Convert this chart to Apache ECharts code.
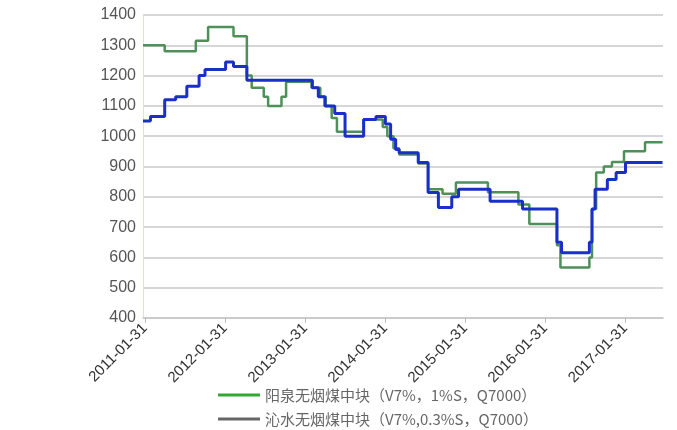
<!DOCTYPE html>
<html>
<head>
<meta charset="utf-8">
<script src="https://cdn.jsdelivr.net/npm/echarts@6/dist/echarts.min.js"></script>
<style>
  html, body { margin: 0; padding: 0; background: #fff; }
  #chart { width: 677px; height: 430px; }
</style>
</head>
<body>
<div id="chart"></div>
<script>
// 图例名称
const seriesNames = ['阳泉无烟煤中块（V7%，1%S，Q7000）', '沁水无烟煤中块（V7%,0.3%S，Q7000）']

// x 轴刻度日期
const tickDates = ['2011-01-31', '2012-01-31', '2013-01-31', '2014-01-31', '2015-01-31', '2016-01-31', '2017-01-31']

// 阳泉：价格变动点 [日期, 元/吨]
const yangquan = [
  ['2011-01-22', 1300], ['2011-05-01', 1280], ['2011-09-20', 1315], ['2011-11-15', 1360],
  ['2012-03-10', 1330], ['2012-05-10', 1200], ['2012-06-01', 1160], ['2012-07-26', 1130],
  ['2012-08-15', 1100], ['2012-10-15', 1130], ['2012-11-05', 1180], ['2013-03-01', 1160],
  ['2013-04-10', 1130], ['2013-05-05', 1100], ['2013-06-01', 1060], ['2013-06-25', 1015],
  ['2013-10-25', 1055], ['2014-01-20', 1030], ['2014-02-10', 1000], ['2014-03-10', 960],
  ['2014-04-05', 940], ['2014-07-01', 910], ['2014-08-15', 825], ['2014-10-20', 810],
  ['2014-12-20', 847], ['2015-05-15', 815], ['2015-10-01', 775], ['2015-11-20', 710],
  ['2016-03-25', 640], ['2016-04-10', 567], ['2016-08-20', 600], ['2016-09-01', 760],
  ['2016-09-20', 880], ['2016-10-25', 900], ['2016-12-01', 915], ['2017-01-25', 950],
  ['2017-05-01', 980], ['2017-07-20', 980]
]

// 沁水：价格变动点 [日期, 元/吨]
const qinshui = [
  ['2011-01-22', 1050], ['2011-02-25', 1065], ['2011-05-01', 1120], ['2011-06-20', 1130],
  ['2011-08-10', 1165], ['2011-10-05', 1200], ['2011-11-01', 1220], ['2012-02-03', 1245],
  ['2012-03-10', 1230], ['2012-05-10', 1185], ['2013-03-05', 1160], ['2013-04-01', 1130],
  ['2013-05-01', 1100], ['2013-06-15', 1075], ['2013-08-01', 1000], ['2013-10-25', 1055],
  ['2013-12-20', 1065], ['2014-02-01', 1040], ['2014-02-25', 990], ['2014-03-20', 956],
  ['2014-04-05', 945], ['2014-07-01', 913], ['2014-08-15', 814], ['2014-10-01', 765],
  ['2014-12-01', 800], ['2015-01-01', 825], ['2015-05-25', 785], ['2015-10-20', 760],
  ['2016-03-25', 650], ['2016-04-15', 615], ['2016-08-20', 650], ['2016-09-01', 760],
  ['2016-09-15', 825], ['2016-11-10', 857], ['2016-12-20', 880], ['2017-02-01', 913],
  ['2017-07-20', 913]
]

// 日期转时间戳（UTC）
const toTime = s => Date.parse(s + 'T00:00:00Z')
const pad = n => (n < 10 ? '0' : '') + n
const toPoints = arr => arr.map(([d, v]) => [toTime(d), v])

const chart = echarts.init(document.getElementById('chart'))

chart.setOption({
  backgroundColor: '#fff',
  animation: false,
  grid: {left: 143, right: 14, top: 15, bottom: 112},
  legend: {
    orient: 'vertical',
    left: 218,
    top: 386,
    height: 60,
    padding: 0,
    itemWidth: 42,
    itemHeight: 3,
    itemGap: 6,
    textStyle: {fontSize: 15, lineHeight: 18, color: '#666', fontFamily: 'Noto Sans CJK SC'},
    data: [
      {name: seriesNames[0], icon: 'rect', itemStyle: {color: '#33a833'}},
      {name: seriesNames[1], icon: 'rect', itemStyle: {color: '#666'}}
    ]
  },
  xAxis: {
    type: 'value',
    min: toTime('2011-01-22'),
    max: toTime('2017-07-22'),
    splitLine: {show: false},
    axisLine: {lineStyle: {color: '#c8c8c8', width: 1.5}},
    axisTick: {show: true, length: 5, lineStyle: {color: '#bbb'}, customValues: tickDates.map(toTime)},
    axisLabel: {
      rotate: 45,
      fontSize: 15,
      color: '#333',
      fontFamily: 'Liberation Sans',
      margin: 8,
      customValues: tickDates.map(toTime),
      formatter: v => {
        const d = new Date(v)
        return d.getUTCFullYear() + '-' + pad(d.getUTCMonth() + 1) + '-' + pad(d.getUTCDate())
      }
    }
  },
  yAxis: {
    type: 'value',
    min: 400,
    max: 1400,
    interval: 100,
    axisLine: {show: true, lineStyle: {color: '#e2e2c8', width: 1}},
    axisTick: {show: false},
    axisLabel: {fontSize: 16, color: '#555', fontFamily: 'Liberation Sans', margin: 7, formatter: v => String(v)},
    splitLine: {lineStyle: {color: '#c8c8c8', width: 1.5}}
  },
  series: [
    {
      name: seriesNames[0],
      type: 'line',
      step: 'end',
      symbol: 'none',
      data: toPoints(yangquan),
      itemStyle: {color: '#4f8f5a'},
      lineStyle: {color: '#4f8f5a', width: 2.5}
    },
    {
      name: seriesNames[1],
      type: 'line',
      step: 'end',
      symbol: 'none',
      data: toPoints(qinshui),
      itemStyle: {color: '#1a2fc8'},
      lineStyle: {color: '#1a2fc8', width: 3}
    }
  ]
})
</script>
</body>
</html>
